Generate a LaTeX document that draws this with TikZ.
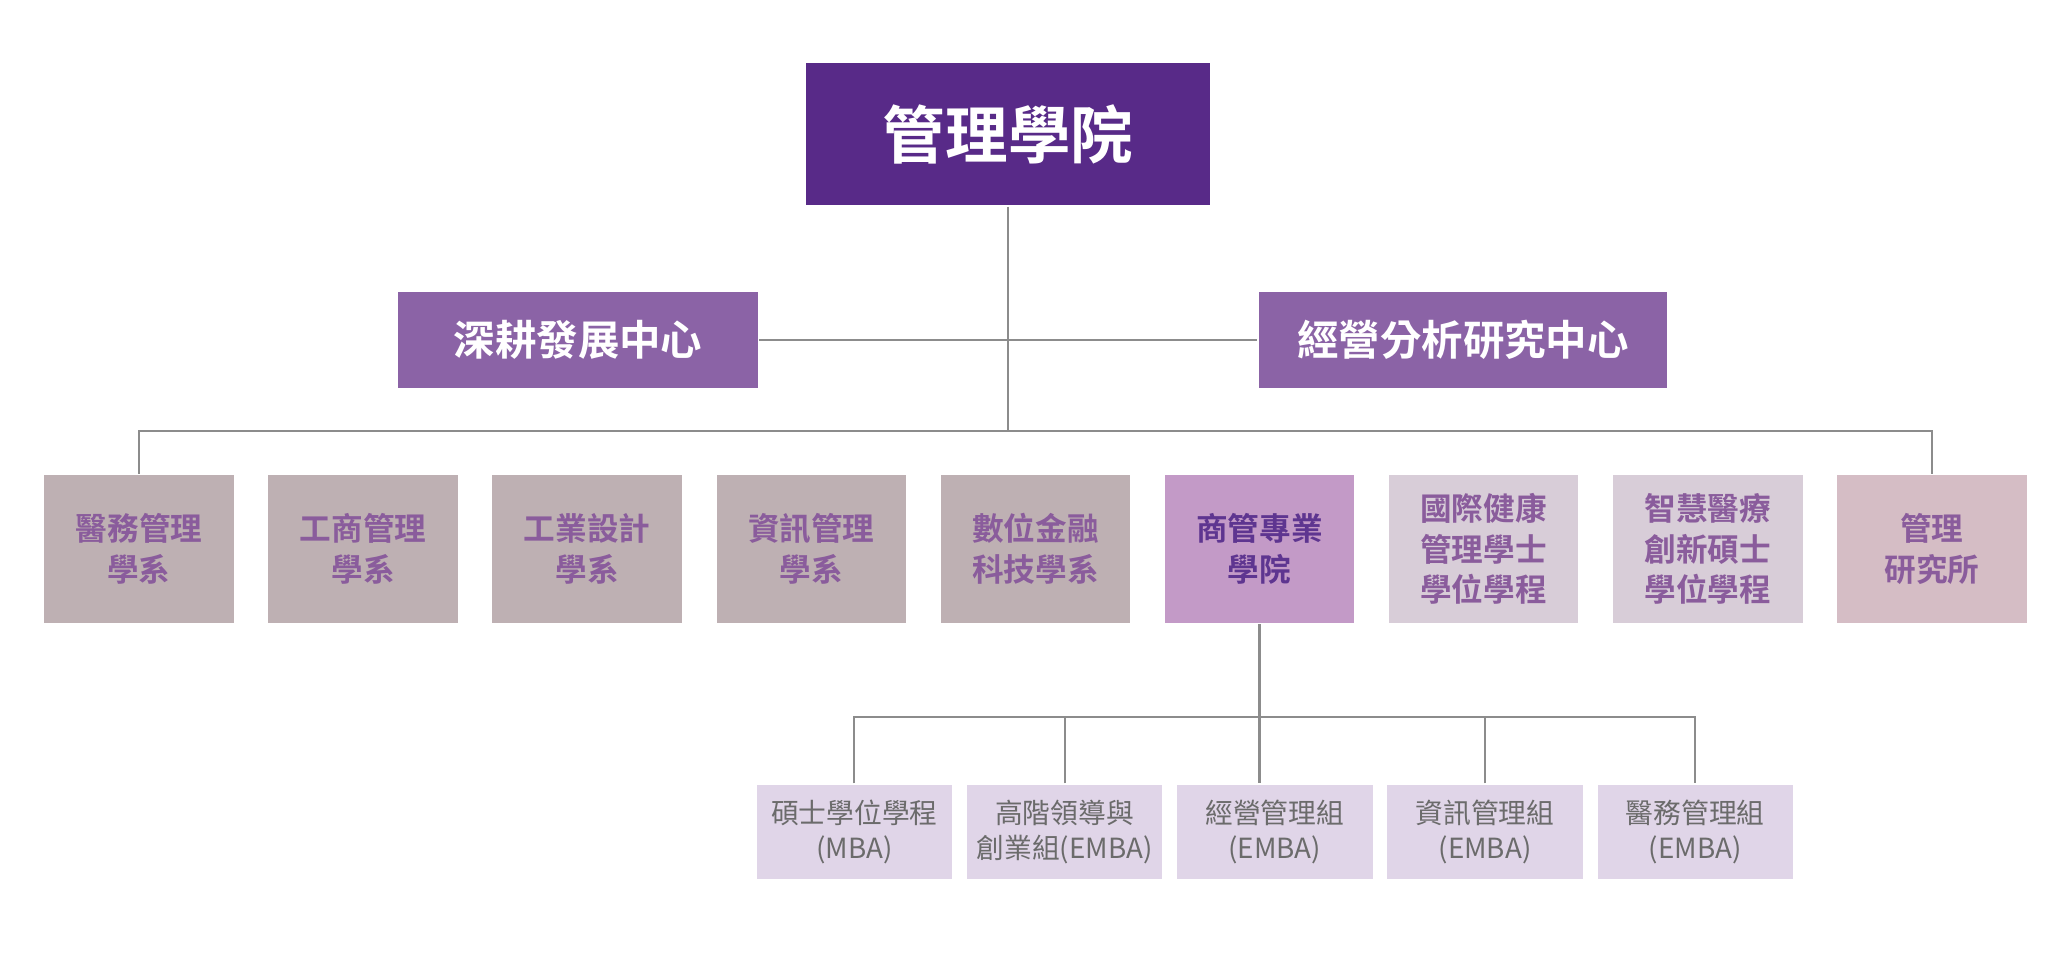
\documentclass[tikz,border=0pt]{standalone}
\usepackage{fontspec}
\setmainfont{Noto Sans CJK TC}
\newfontfamily\cjkbold{Noto Sans CJK TC Bold}
\definecolor{topfill}{HTML}{582A88}
\definecolor{midfill}{HTML}{8B63A6}
\definecolor{deptfill}{HTML}{BEB0B3}
\definecolor{bizfill}{HTML}{C39AC7}
\definecolor{progfill}{HTML}{D8CDD8}
\definecolor{instfill}{HTML}{D5BDC5}
\definecolor{subfill}{HTML}{E0D5E8}
\definecolor{depttext}{HTML}{8A5C9C}
\definecolor{biztext}{HTML}{5E3590}
\definecolor{subtext}{HTML}{6B6B6B}
\definecolor{linkgray}{HTML}{8C8C8C}
\tikzset{
  orgbox/.style={inner sep=0pt,align=center,draw=white,line width=0.4pt},
  deptbox/.style={orgbox,minimum width=1.91cm,minimum height=1.49cm,
    font=\cjkbold\fontsize{9pt}{11.6pt}\selectfont,text=depttext},
  subbox/.style={orgbox,minimum width=1.97cm,minimum height=0.96cm,fill=subfill,
    font=\fontsize{7.9pt}{10.1pt}\selectfont,text=subtext},
  link/.style={draw=linkgray,line width=0.6pt}
}
\begin{document}
\begin{tikzpicture}
\useasboundingbox (0,0) rectangle (20.67,-9.56);
\coordinate (bus) at (0,-4.31);
\coordinate (subbus) at (0,-7.17);
% top level
\node[orgbox,fill=topfill,text=white,minimum width=4.06cm,minimum height=1.44cm,
  font=\cjkbold\fontsize{17.8pt}{20pt}\selectfont] (top) at (10.08,-1.34) {管理學院};
\node[orgbox,fill=midfill,text=white,minimum width=3.61cm,minimum height=0.98cm,
  font=\cjkbold\fontsize{11.8pt}{14pt}\selectfont] (ctrL) at (5.78,-3.40) {深耕發展中心};
\node[orgbox,fill=midfill,text=white,minimum width=4.10cm,minimum height=0.98cm,
  font=\cjkbold\fontsize{11.8pt}{14pt}\selectfont] (ctrR) at (14.63,-3.40) {經營分析研究中心};
% departments
\foreach \i/\fl/\tc/\txt in {1/deptfill/depttext/{醫務管理\\學系},
    2/deptfill/depttext/{工商管理\\學系},3/deptfill/depttext/{工業設計\\學系},
    4/deptfill/depttext/{資訊管理\\學系},5/deptfill/depttext/{數位金融\\科技學系},
    6/bizfill/biztext/{商管專業\\學院},7/progfill/depttext/{國際健康\\管理學士\\學位學程},
    8/progfill/depttext/{智慧醫療\\創新碩士\\學位學程},9/instfill/depttext/{管理\\研究所}}
  \node[deptbox,fill=\fl,text=\tc] (dep\i) at ({1.39+2.241*(\i-1)},-5.49) {\txt};
% programmes
\foreach \i/\txt in {1/{碩士學位學程\\(MBA)},2/{高階領導與\\創業組(EMBA)},
    3/{經營管理組\\(EMBA)},4/{資訊管理組\\(EMBA)},5/{醫務管理組\\(EMBA)}}
  \node[subbox] (sub\i) at ({8.543+2.1025*(\i-1)},-8.32) {\txt};
% connectors
\draw[link] (top.south) -- (top.south |- bus);
\draw[link] (ctrL.east) -- (ctrR.west);
\draw[link] (dep1.north) -- (dep1.north |- bus) -- (dep9.north |- bus) -- (dep9.north);
\draw[link] (dep6.south) -- (dep6.south |- sub3.north);
\draw[link] (sub1.north) -- (sub1.north |- subbus) -- (sub5.north |- subbus) -- (sub5.north);
\draw[link] (sub2.north) -- (sub2.north |- subbus);
\draw[link] (sub4.north) -- (sub4.north |- subbus);
\end{tikzpicture}
\end{document}
